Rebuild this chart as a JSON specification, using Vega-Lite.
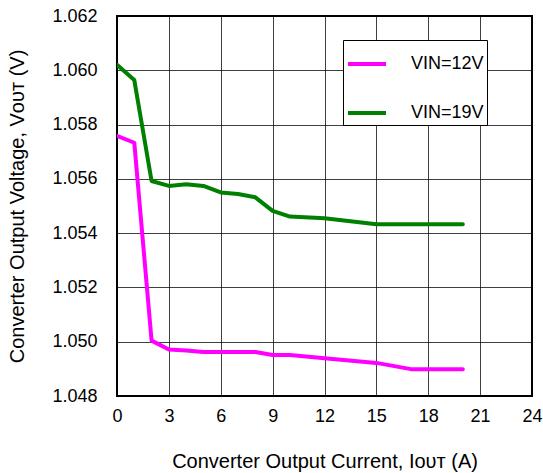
{
  "$schema": "https://vega.github.io/schema/vega-lite/v6.json",
  "width": 415,
  "height": 380,
  "autosize": {"type": "none"},
  "padding": {"left": 117, "top": 16, "right": 11, "bottom": 77},
  "background": "white",
  "config": {
    "font": "Liberation Sans",
    "view": {"stroke": "#000", "strokeWidth": 2},
    "axis": {
      "domain": false,
      "ticks": false,
      "grid": true,
      "gridColor": "#000",
      "gridOpacity": 0.75,
      "gridWidth": 1,
      "labelFlush": false,
      "labelFont": "Liberation Sans",
      "labelFontSize": 18,
      "labelColor": "#000",
      "titleFont": "Liberation Sans",
      "titleFontSize": 20,
      "titleFontWeight": "normal",
      "titleColor": "#000"
    }
  },
  "data": {
    "values": [
      {"I": 0, "V": 1.05758, "VIN": "VIN=12V"},
      {"I": 1, "V": 1.05733, "VIN": "VIN=12V"},
      {"I": 2, "V": 1.05004, "VIN": "VIN=12V"},
      {"I": 3, "V": 1.04971, "VIN": "VIN=12V"},
      {"I": 4, "V": 1.04968, "VIN": "VIN=12V"},
      {"I": 5, "V": 1.04962, "VIN": "VIN=12V"},
      {"I": 6, "V": 1.04962, "VIN": "VIN=12V"},
      {"I": 7, "V": 1.04962, "VIN": "VIN=12V"},
      {"I": 8, "V": 1.04962, "VIN": "VIN=12V"},
      {"I": 9, "V": 1.04951, "VIN": "VIN=12V"},
      {"I": 10, "V": 1.04951, "VIN": "VIN=12V"},
      {"I": 12, "V": 1.04939, "VIN": "VIN=12V"},
      {"I": 15, "V": 1.04922, "VIN": "VIN=12V"},
      {"I": 17, "V": 1.04899, "VIN": "VIN=12V"},
      {"I": 20, "V": 1.04899, "VIN": "VIN=12V"},
      {"I": 0, "V": 1.0602, "VIN": "VIN=19V"},
      {"I": 1, "V": 1.05964, "VIN": "VIN=19V"},
      {"I": 2, "V": 1.05592, "VIN": "VIN=19V"},
      {"I": 3, "V": 1.05574, "VIN": "VIN=19V"},
      {"I": 4, "V": 1.0558, "VIN": "VIN=19V"},
      {"I": 5, "V": 1.05574, "VIN": "VIN=19V"},
      {"I": 6, "V": 1.0555, "VIN": "VIN=19V"},
      {"I": 7, "V": 1.05544, "VIN": "VIN=19V"},
      {"I": 8, "V": 1.05532, "VIN": "VIN=19V"},
      {"I": 9, "V": 1.05482, "VIN": "VIN=19V"},
      {"I": 10, "V": 1.05461, "VIN": "VIN=19V"},
      {"I": 12, "V": 1.05455, "VIN": "VIN=19V"},
      {"I": 15, "V": 1.05433, "VIN": "VIN=19V"},
      {"I": 20, "V": 1.05433, "VIN": "VIN=19V"}
    ]
  },
  "mark": {"type": "line", "strokeWidth": 4, "strokeJoin": "round", "strokeCap": "round", "clip": true},
  "encoding": {
    "x": {
      "field": "I",
      "type": "quantitative",
      "scale": {"domain": [0, 24], "nice": false},
      "axis": {
        "values": [0, 3, 6, 9, 12, 15, 18, 21, 24],
        "labelPadding": 11,
        "titlePadding": 26,
        "title": "Converter Output Current, Iᴏᴜᴛ  (A)"
      }
    },
    "y": {
      "field": "V",
      "type": "quantitative",
      "scale": {"domain": [1.048, 1.062], "nice": false, "zero": false},
      "axis": {
        "values": [1.048, 1.05, 1.052, 1.054, 1.056, 1.058, 1.06, 1.062],
        "format": ".3f",
        "labelPadding": 20,
        "titlePadding": 24,
        "title": "Converter Output Voltage, Vᴏᴜᴛ (V)"
      }
    },
    "color": {
      "field": "VIN",
      "type": "nominal",
      "scale": {"domain": ["VIN=12V", "VIN=19V"], "range": ["#ff00ff", "#008000"]},
      "legend": {
        "title": null,
        "orient": "none",
        "legendX": 226,
        "legendY": 24,
        "direction": "vertical",
        "strokeColor": "#000",
        "fillColor": "white",
        "padding": 3,
        "cornerRadius": 0,
        "symbolType": "stroke",
        "symbolSize": 1444,
        "symbolStrokeWidth": 4,
        "labelOffset": 23,
        "labelExpr": "datum.label + '\u00a0\u00a0\u00a0\u00a0'",
        "labelFont": "Liberation Sans",
        "labelFontSize": 18,
        "labelColor": "#000",
        "rowPadding": 19
      }
    }
  }
}
